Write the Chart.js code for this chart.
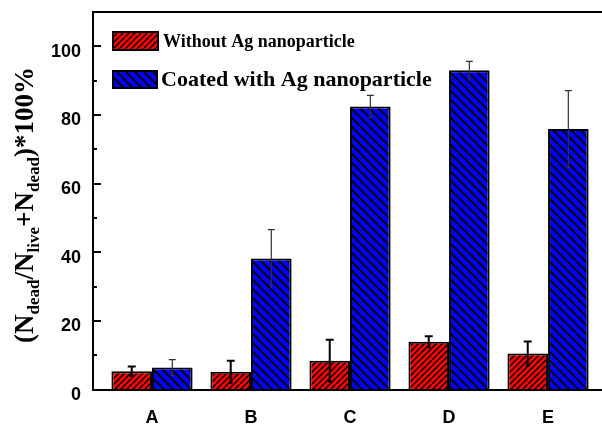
<!DOCTYPE html>
<html>
<head>
<meta charset="utf-8">
<script src="https://cdn.jsdelivr.net/npm/chart.js@4"></script>
<style>
  html, body { margin: 0; padding: 0; background: #fff; }
</style>
</head>
<body>
<canvas id="myChart" width="602" height="425"></canvas>
<script>
const categories = ['A', 'B', 'C', 'D', 'E'];
const withoutAg = [5.3, 5.2, 8.4, 13.9, 10.5];
const withoutAgErr = [1.4, 3.2, 6.1, 1.6, 3.5];
const coatedAg = [6.4, 38.2, 82.5, 93.0, 75.9];
const coatedAgErr = [2.3, 8.4, 3.2, 2.6, 11.2];
const yTicks = [0, 20, 40, 60, 80, 100];
const seriesNames = ['Without Ag nanoparticle', 'Coated with Ag nanoparticle'];

// hatch fill: coloured tile with one black diagonal
function hatch(bg, size, width, dir) {
    const c = document.createElement('canvas');
    c.width = size; c.height = size;
    const g = c.getContext('2d');
    g.fillStyle = bg;
    g.fillRect(0, 0, size, size);
    g.strokeStyle = '#000';
    g.lineWidth = width;
    g.beginPath();
    for (const k of [-size, 0, size]) {
        if (dir === 'up') { g.moveTo(k, size); g.lineTo(k + size, 0); }
        else { g.moveTo(k, 0); g.lineTo(k + size, size); }
    }
    g.stroke();
    return g.createPattern(c, 'repeat');
}

const ctx = document.getElementById('myChart').getContext('2d');
const redFill = hatch('#ff0000', 6, 1.5, 'up');
const blueFill = hatch('#0000ff', 9, 2, 'down');

const errors = [withoutAgErr, coatedAgErr];
const errStyle = [{ color: '#000', width: 2, cap: 4 }, { color: '#333', width: 1.2, cap: 3.5 }];

const errorBars = {
    id: 'errorBars',
    afterDatasetsDraw(chart) {
        const c = chart.ctx, y = chart.scales.y;
        chart.data.datasets.forEach((ds, i) => {
            const st = errStyle[i];
            chart.getDatasetMeta(i).data.forEach((bar, j) => {
                const v = ds.data[j].y, e = errors[i][j];
                const top = y.getPixelForValue(v + e), bot = y.getPixelForValue(v - e);
                c.save();
                c.strokeStyle = st.color;
                c.lineWidth = st.width;
                c.beginPath();
                c.moveTo(bar.x, top); c.lineTo(bar.x, bot);
                c.moveTo(bar.x - st.cap, top); c.lineTo(bar.x + st.cap, top);
                c.moveTo(bar.x - st.cap / 2, bot); c.lineTo(bar.x + st.cap / 2, bot);
                c.stroke();
                c.restore();
            });
        });
    }
};

const decorations = {
    id: 'decorations',
    afterDraw(chart) {
        const c = chart.ctx, a = chart.chartArea, y = chart.scales.y;
        c.save();
        // top frame line
        c.strokeStyle = '#000';
        c.lineWidth = 2;
        c.beginPath();
        c.moveTo(a.left, a.top); c.lineTo(chart.width, a.top);
        // inward ticks, major every 20, minor every 10
        for (let v = 0; v <= 100; v += 10) {
            const py = Math.round(y.getPixelForValue(v));
            const len = yTicks.includes(v) ? 8 : 4;
            c.moveTo(a.left, py); c.lineTo(a.left + len, py);
        }
        c.stroke();

        // legend
        const fills = [redFill, blueFill];
        const boxes = [[113, 32, 45, 18], [113, 71, 44, 17]];
        const fonts = ['bold 18px "Liberation Serif"', 'bold 22px "Liberation Serif"'];
        const textPos = [[163, 47], [161, 86]];
        for (let i = 0; i < 2; i++) {
            const [bx, by, bw, bh] = boxes[i];
            c.fillStyle = fills[i];
            c.fillRect(bx, by, bw, bh);
            c.strokeRect(bx, by, bw, bh);
            c.fillStyle = '#000';
            c.font = fonts[i];
            c.textBaseline = 'alphabetic';
            c.fillText(chart.data.datasets[i].label, textPos[i][0], textPos[i][1]);
        }

        // y title with subscripts
        const parts = [['(N', 0], ['dead', 1], ['/N', 0], ['live', 1], ['+N', 0], ['dead', 1], [')*100%', 0]];
        const mainFont = 'bold 27px "Liberation Serif"', subFont = 'bold 17px "Liberation Serif"';
        let total = 0;
        for (const [t, s] of parts) { c.font = s ? subFont : mainFont; total += c.measureText(t).width; }
        c.translate(24, 205);
        c.rotate(-Math.PI / 2);
        let x = -total / 2;
        for (const [t, s] of parts) {
            c.font = s ? subFont : mainFont;
            c.fillText(t, x, s ? 15 : 9);
            x += c.measureText(t).width;
        }
        c.restore();
    }
};

const tickFont = { family: 'Liberation Sans', weight: 'bold', size: 18 };

function noPad(s) {
    s.paddingTop = 0; s.paddingBottom = 0; s.paddingLeft = 0; s.paddingRight = 0;
}

new Chart(ctx, {
    type: 'bar',
    data: {
        datasets: [{
            label: seriesNames[0],
            data: withoutAg.map((v, i) => ({ x: i + 1, y: v })),
            backgroundColor: redFill,
            borderColor: '#000',
            borderWidth: 2
        }, {
            label: seriesNames[1],
            data: coatedAg.map((v, i) => ({ x: i + 1, y: v })),
            backgroundColor: blueFill,
            borderColor: '#000',
            borderWidth: 2
        }]
    },
    options: {
        responsive: false,
        animation: false,
        categoryPercentage: 0.82,
        barPercentage: 1,
        layout: { padding: { top: 12, left: 0, right: 0, bottom: 0 } },
        plugins: { legend: { display: false }, tooltip: { enabled: false } },
        scales: {
            x: {
                type: 'linear',
                min: 0.404,
                max: 5.545,
                offset: false,
                grid: { display: false, offset: false, drawTicks: false },
                border: { color: '#000', width: 2 },
                ticks: {
                    stepSize: 1,
                    includeBounds: false,
                    autoSkip: false,
                    maxRotation: 0,
                    padding: 18,
                    color: '#000',
                    font: tickFont,
                    callback: v => (Number.isInteger(v) && categories[v - 1]) ? categories[v - 1] : ''
                },
                afterFit: s => { s.height = 35.5; noPad(s); }
            },
            y: {
                min: 0,
                max: 110,
                grid: { display: false, drawTicks: false },
                border: { color: '#000', width: 2 },
                ticks: {
                    stepSize: 20,
                    includeBounds: false,
                    padding: 12,
                    color: '#000',
                    font: { family: 'Liberation Sans', weight: 'bold', size: 18, lineHeight: 0.6 },
                    callback: v => yTicks.includes(v) ? ['', String(v)] : ''
                },
                afterFit: s => { s.width = 93; noPad(s); }
            }
        }
    },
    plugins: [errorBars, decorations]
});
</script>
</body>
</html>
